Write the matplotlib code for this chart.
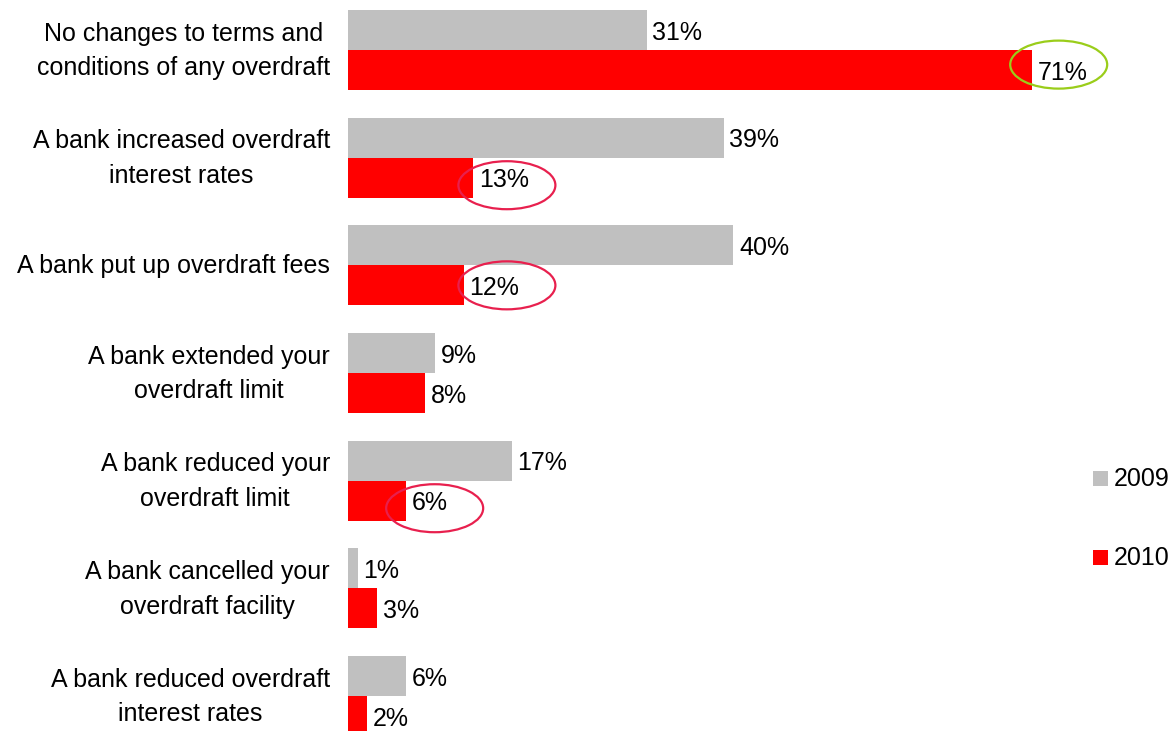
import matplotlib
matplotlib.use("Agg")
import matplotlib.pyplot as plt
from matplotlib.patches import Ellipse, Rectangle

categories = [
    "No changes to terms and\nconditions of any overdraft",
    "A bank increased overdraft\ninterest rates",
    "A bank put up overdraft fees",
    "A bank extended your\noverdraft limit",
    "A bank reduced your\noverdraft limit",
    "A bank cancelled your\noverdraft facility",
    "A bank reduced overdraft\ninterest rates",
]
series_names = ["2009", "2010"]
values_2009 = [31, 39, 40, 9, 17, 1, 6]
values_2010 = [71, 13, 12, 8, 6, 3, 2]
colors = ["#C0C0C0", "#FF0000"]

# highlighted labels: (category index, series index, ellipse centre x in %, colour)
highlights = [
    (0, 1, 73.8, "#9ACD1A"),
    (1, 1, 16.5, "#E8204E"),
    (2, 1, 16.5, "#E8204E"),
    (4, 1, 9.0, "#E8204E"),
]

plt.rcParams["font.family"] = ["Liberation Sans", "DejaVu Sans"]
W, H = 1176, 731
fig = plt.figure(figsize=(W / 100, H / 100), dpi=100)
ax = fig.add_axes([348 / W, 0, (W - 348) / W, 1])

unit = 107.67  # px per category
bh = 40 / unit
n = len(categories)
ys = list(range(n))
ax.set_ylim((H - 50) / unit, -50 / unit)
ax.set_xlim(0, (W - 348) / 9.63)

fs = 18
for vals, off, col in [(values_2009, -bh / 2, colors[0]), (values_2010, bh / 2, colors[1])]:
    yy = [y + off for y in ys]
    ax.barh(yy, vals, height=bh, color=col, edgecolor="none")
    for y, v in zip(yy, vals):
        ax.text(v + 0.6, y + 0.025, f"{v}%", va="center", ha="left", fontsize=fs, color="black")

for ci, si, cx, col in highlights:
    yc = ci + (bh / 2 if si == 1 else -bh / 2)
    dy = -0.05 if ci == 0 else 0.0
    if ci == 1 or ci == 4:
        dy = 0.07
    e = Ellipse((cx, yc + dy), width=97 / 9.63, height=48 / unit, fill=False,
                edgecolor=col, linewidth=1.6, clip_on=False)
    ax.add_patch(e)

ax.set_yticks([])
ax.set_xticks([])
for s in ax.spines.values():
    s.set_visible(False)

for y, lab in zip(ys, categories):
    ax.text(-18 / 9.63, y + 0.01, lab, ha="right", va="center", multialignment="center",
            fontsize=fs, linespacing=1.56, clip_on=False)

# legend
leg_y = [478, 557]
for name, col, py in zip(series_names, colors, leg_y):
    fig.patches.append(Rectangle((1093 / W, 1 - (py + 7.5) / H), 15 / W, 15 / H,
                                 transform=fig.transFigure, facecolor=col, edgecolor="none"))
    fig.text(1114 / W, 1 - (py + 1) / H, name, ha="left", va="center", fontsize=fs)

fig.savefig("out.png", dpi=100)
